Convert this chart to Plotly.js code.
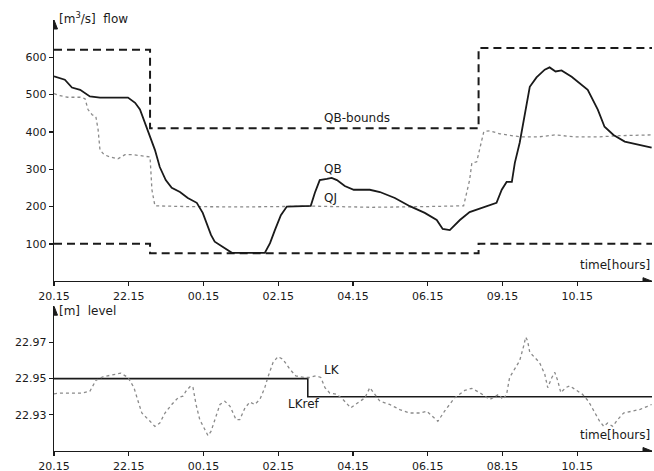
<!DOCTYPE html>
<html>
<head>
<meta charset="utf-8">
<script src="https://cdn.plot.ly/plotly-3.0.1.min.js"></script>
<style>html,body{margin:0;padding:0;background:#fff;}#chart{width:654px;height:471px;}</style>
</head>
<body>
<div id="chart"></div>
<script>
// time in hours after 20:15
const tickHours = [0, 2, 4, 6, 8, 10, 12, 14];
const topTickLabels = ['20.15', '22.15', '00.15', '02.15', '04.15', '06.15', '09.15', '10.15'];
const bottomTickLabels = ['20.15', '22.15', '00.15', '02.15', '04.15', '06.15', '08.15', '10.15'];

const flowTicks = [100, 200, 300, 400, 500, 600];
const levelTicks = [22.93, 22.95, 22.97];
const levelTickLabels = ['22.93', '22.95', '22.97'];

// QB-bounds (step breakpoints)
const boundTime = [0, 2.57, 11.36, 16];
const upperBound = [620, 410, 625, 625];
const lowerBound = [100, 75, 100, 100];

// QB flow
const qbTime = [0,0.29,0.48,0.70,0.96,1.23,1.98,2.17,2.30,2.43,2.57,2.70,2.83,2.99,3.15,3.37,3.58,3.82,3.98,4.12,4.20,4.30,4.57,4.76,5.64,5.78,5.91,6.07,6.23,6.87,6.98,7.11,7.30,7.43,7.57,7.78,8.02,8.24,8.45,8.72,9.12,9.52,9.92,10.24,10.40,10.59,10.86,11.12,11.39,11.66,11.84,11.98,12.11,12.25,12.33,12.46,12.59,12.73,12.91,13.13,13.26,13.42,13.58,13.85,14.28,14.55,14.73,14.97,15.27,15.67,15.99];
const qbFlow = [549,540,519,513,495,492,492,478,460,425,387,352,306,271,250,239,223,210,183,142,124,106,89,76,76,102,137,177,200,202,237,271,274,277,271,255,245,245,245,239,223,201,183,164,140,137,164,185,194,204,210,245,266,266,317,371,446,521,546,567,573,562,565,548,513,460,414,392,374,366,358];

// QJ flow
const qjTime = [0,0.16,0.37,0.70,0.83,0.91,1.02,1.12,1.18,1.23,1.34,1.50,1.71,1.90,2.11,2.43,2.57,2.62,2.70,3.5,5.0,7.0,8.5,10.0,10.96,11.12,11.18,11.31,11.39,11.50,11.66,11.93,12.46,12.99,13.40,13.93,14.60,15.13,15.99];
const qjFlow = [503,497,493,493,489,460,446,441,406,352,339,333,328,339,339,336,333,245,202,200,199,201,198,200,202,271,317,320,352,401,403,395,387,387,392,387,387,390,392];

// LK level
const lkTime = [0,0.16,0.48,0.75,0.96,1.12,1.31,1.58,1.79,1.98,2.14,2.25,2.35,2.57,2.70,2.83,2.97,3.15,3.32,3.45,3.53,3.66,3.72,3.80,3.90,4.04,4.12,4.20,4.33,4.44,4.57,4.71,4.87,4.97,5.11,5.24,5.37,5.51,5.64,5.72,5.86,5.99,6.12,6.31,6.47,6.71,6.84,7.00,7.14,7.25,7.38,7.57,7.73,7.94,8.13,8.32,8.45,8.56,8.72,8.98,9.25,9.52,9.79,9.97,10.13,10.27,10.45,10.72,10.99,11.18,11.39,11.66,11.82,11.90,12.01,12.11,12.19,12.30,12.46,12.57,12.62,12.67,12.73,12.86,12.99,13.13,13.21,13.32,13.40,13.48,13.56,13.69,13.80,13.98,14.14,14.30,14.47,14.60,14.71,14.81,14.95,15.08,15.24,15.45,15.67,15.88,15.99];
const lkLevel = [22.9416,22.942,22.942,22.942,22.943,22.949,22.951,22.952,22.953,22.9506,22.945,22.9375,22.931,22.9264,22.9236,22.9254,22.931,22.9357,22.9394,22.9403,22.943,22.946,22.945,22.9357,22.9273,22.9217,22.9185,22.9208,22.929,22.9357,22.9375,22.9347,22.9273,22.9273,22.9338,22.937,22.9357,22.9385,22.945,22.9506,22.9589,22.9621,22.9608,22.9552,22.9515,22.9506,22.9506,22.9515,22.9506,22.945,22.942,22.9413,22.9385,22.9338,22.9366,22.9394,22.945,22.9422,22.9375,22.9357,22.9329,22.931,22.931,22.932,22.929,22.9264,22.932,22.9394,22.9435,22.9446,22.9422,22.9385,22.9403,22.9413,22.9385,22.9413,22.9506,22.9543,22.9599,22.9683,22.9729,22.971,22.9645,22.9617,22.9589,22.9525,22.945,22.9506,22.9534,22.9487,22.9422,22.945,22.946,22.9435,22.9413,22.9375,22.931,22.9264,22.9236,22.9254,22.9236,22.9273,22.931,22.932,22.9329,22.9347,22.9357];

// LKref level (step)
const lkrefTime = [0, 6.79, 16];
const lkrefLevel = [22.95, 22.94, 22.94];

const INK = '#1a1a1a';
const FONT = 'DejaVu Sans, sans-serif';

const traces = [
  {x: boundTime, y: upperBound, mode: 'lines', line: {shape: 'hv', color: INK, width: 2, dash: '8px,5px'}, xaxis: 'x', yaxis: 'y'},
  {x: boundTime, y: lowerBound, mode: 'lines', line: {shape: 'hv', color: INK, width: 2, dash: '8px,5px'}, xaxis: 'x', yaxis: 'y'},
  {x: qjTime, y: qjFlow, mode: 'lines', line: {color: '#8a8a8a', width: 1.3, dash: 'dot'}, xaxis: 'x', yaxis: 'y'},
  {x: qbTime, y: qbFlow, mode: 'lines', line: {color: INK, width: 1.8}, xaxis: 'x', yaxis: 'y'},
  {x: lkrefTime, y: lkrefLevel, mode: 'lines', line: {shape: 'hv', color: INK, width: 1.6}, xaxis: 'x2', yaxis: 'y2'},
  {x: lkTime, y: lkLevel, mode: 'lines', line: {color: '#8a8a8a', width: 1.3, dash: 'dot'}, xaxis: 'x2', yaxis: 'y2'}
];

const axisCommon = {
  showline: true, linecolor: INK, linewidth: 1.3,
  ticks: 'outside', ticklen: 4, tickcolor: INK, tickwidth: 1.3,
  showgrid: false, zeroline: false,
  tickfont: {family: FONT, size: 11, color: INK}
};

function ann(text, xref, yref, x, y, xanchor, size) {
  return {text: text, xref: xref, yref: yref, x: x, y: y, xanchor: xanchor, yanchor: 'middle',
          showarrow: false, font: {family: FONT, size: size || 12, color: INK}};
}
// arrowheads at axis ends, drawn as small pixel-sized filled triangles
function head(xref, yref, x, y, path) {
  return {type: 'path', xref: xref, yref: yref, xsizemode: 'pixel', ysizemode: 'pixel',
          xanchor: x, yanchor: y, path: path, fillcolor: INK, line: {color: INK, width: 1}, layer: 'above'};
}
const UP = 'M -3.5 -9 L 0 0 L 3.5 -9 Z';
const RIGHT = 'M -9 -3.5 L 0 0 L -9 3.5 Z';

const layout = {
  width: 654, height: 471,
  margin: {l: 54, r: 2, t: 20, b: 20},
  paper_bgcolor: '#fff', plot_bgcolor: '#fff',
  showlegend: false,
  xaxis: Object.assign({}, axisCommon, {domain: [0, 1], anchor: 'y', range: [0, 16], tickvals: tickHours, ticktext: topTickLabels}),
  yaxis: Object.assign({}, axisCommon, {domain: [0.394, 1], anchor: 'x', range: [0, 700], tickvals: flowTicks}),
  xaxis2: Object.assign({}, axisCommon, {domain: [0, 1], anchor: 'y2', range: [0, 16], tickvals: tickHours, ticktext: bottomTickLabels}),
  yaxis2: Object.assign({}, axisCommon, {domain: [0, 0.336], anchor: 'x2', range: [22.91, 22.99], tickvals: levelTicks, ticktext: levelTickLabels}),
  shapes: [
    head('x', 'y', 0, 700, UP),
    head('x', 'y', 16, 0, RIGHT),
    head('x2', 'y2', 0, 22.99, UP),
    head('x2', 'y2', 16, 22.91, RIGHT)
  ],
  annotations: [
    ann('[m<sup>3</sup>/s]  flow', 'paper', 'paper', 0.005, 1.005, 'left'),
    ann('QB-bounds', 'x', 'y', 7.17, 437, 'left'),
    ann('QB', 'x', 'y', 7.17, 300, 'left'),
    ann('QJ', 'x', 'y', 7.17, 222, 'left'),
    ann('time[hours]', 'x', 'y', 16, 43, 'right'),
    ann('[m]  level', 'paper', 'paper', 0.005, 0.325, 'left'),
    ann('LK', 'x2', 'y2', 7.17, 22.9545, 'left'),
    ann('LKref', 'x2', 'y2', 6.2, 22.936, 'left'),
    ann('time[hours]', 'x2', 'y2', 16, 22.9186, 'right')
  ]
};

Plotly.newPlot('chart', traces, layout, {staticPlot: true, displayModeBar: false});
</script>
</body>
</html>
